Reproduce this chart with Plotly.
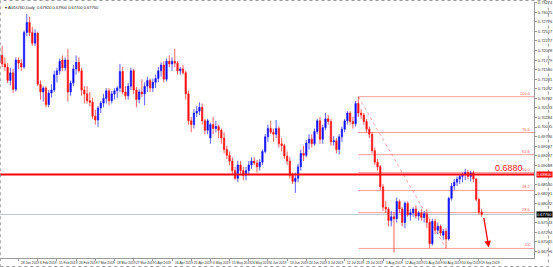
import plotly.graph_objects as go
import pandas as pd

# ---------------- data ----------------
dates = pd.bdate_range("2019-01-17", "2019-09-20")

open_ = [0.7172,0.7190,0.7168,0.7160,0.7125,0.7145,0.7102,0.7178,0.7170,0.7160,
         0.7250,0.7276,0.7250,0.7222,0.7248,0.7115,0.7095,0.7105,0.7062,0.7092,
         0.7100,0.7140,0.7150,0.7178,0.7158,0.7178,0.7095,0.7118,0.7155,0.7172,
         0.7150,0.7100,0.7090,0.7072,0.7068,0.7032,0.7022,0.7053,0.7066,0.7078,
         0.7098,0.7072,0.7090,0.7098,0.7105,0.7148,0.7095,0.7085,0.7110,0.7150,
         0.7100,0.7075,0.7095,0.7090,0.7110,0.7125,0.7105,0.7120,0.7130,0.7150,
         0.7165,0.7128,0.7175,0.7168,0.7175,0.7170,0.7150,0.7155,0.7145,0.7090,
         0.7020,0.7010,0.7040,0.7045,0.7055,0.7020,0.6995,0.6975,0.7010,0.7000,
         0.7005,0.6995,0.6975,0.6945,0.6930,0.6915,0.6890,0.6870,0.6905,0.6890,
         0.6878,0.6890,0.6905,0.6915,0.6910,0.6900,0.6912,0.6940,0.6978,0.7000,
         0.6990,0.6985,0.7000,0.6960,0.6955,0.6928,0.6915,0.6878,0.6862,0.6870,
         0.6900,0.6935,0.6930,0.6962,0.6972,0.6960,0.6992,0.7020,0.6972,0.7002,
         0.7025,0.7018,0.6965,0.6968,0.6945,0.6978,0.6998,0.7020,0.7040,0.7018,
         0.7012,0.7065,0.7040,0.7035,0.7018,0.6998,0.6985,0.6942,0.6912,0.6900,
         0.6848,0.6795,0.6790,0.6760,0.6770,0.6765,0.6810,0.6790,0.6755,0.6805,
         0.6775,0.6780,0.6790,0.6772,0.6780,0.6768,0.6778,0.6755,0.6700,0.6758,
         0.6735,0.6745,0.6722,0.6732,0.6712,0.6818,0.6850,0.6860,0.6868,0.6875,
         0.6880,0.6885,0.6875,0.6884,0.6868,0.6815,0.6782]
high = [0.7200,0.7215,0.7185,0.7170,0.7158,0.7155,0.7185,0.7185,0.7180,0.7255,
        0.7298,0.7290,0.7265,0.7258,0.7252,0.7125,0.7110,0.7110,0.7100,0.7115,
        0.7150,0.7158,0.7182,0.7190,0.7185,0.7207,0.7125,0.7165,0.7190,0.7185,
        0.7158,0.7110,0.7110,0.7095,0.7080,0.7048,0.7058,0.7072,0.7090,0.7105,
        0.7105,0.7098,0.7105,0.7110,0.7168,0.7160,0.7110,0.7118,0.7158,0.7155,
        0.7108,0.7102,0.7128,0.7120,0.7135,0.7130,0.7130,0.7140,0.7160,0.7172,
        0.7175,0.7182,0.7190,0.7185,0.7207,0.7175,0.7160,0.7165,0.7150,0.7098,
        0.7030,0.7050,0.7058,0.7068,0.7065,0.7025,0.7025,0.7015,0.7030,0.7020,
        0.7010,0.7000,0.6990,0.6955,0.6940,0.6925,0.6900,0.6915,0.6915,0.6900,
        0.6900,0.6915,0.6925,0.6925,0.6918,0.6920,0.6945,0.6985,0.7010,0.7020,
        0.7000,0.7022,0.7005,0.6975,0.6960,0.6940,0.6925,0.6885,0.6885,0.6908,
        0.6945,0.6955,0.6970,0.6985,0.6985,0.7000,0.7025,0.7030,0.7010,0.7040,
        0.7035,0.7025,0.6980,0.6975,0.6985,0.7005,0.7025,0.7045,0.7045,0.7030,
        0.7072,0.70826,0.7050,0.7040,0.7025,0.7005,0.6990,0.6950,0.6920,0.6905,
        0.6855,0.6810,0.6795,0.6785,0.6782,0.6820,0.6815,0.6795,0.6810,0.6810,
        0.6790,0.6795,0.6800,0.6785,0.6790,0.6785,0.6790,0.6765,0.6765,0.6765,
        0.6755,0.6750,0.6738,0.6740,0.6822,0.6858,0.6868,0.6875,0.6880,0.6885,
        0.6895,0.6892,0.6890,0.6890,0.6872,0.6820,0.6790]
low = [0.7160,0.7160,0.7150,0.7118,0.7112,0.7092,0.7096,0.7155,0.7150,0.7155,
       0.7240,0.7240,0.7215,0.7215,0.7110,0.7075,0.7070,0.7055,0.7055,0.7080,
       0.7095,0.7120,0.7140,0.7150,0.7150,0.7070,0.7085,0.7110,0.7140,0.7145,
       0.7085,0.7065,0.7065,0.7058,0.7025,0.7010,0.7003,0.7040,0.7055,0.7065,
       0.7060,0.7065,0.7075,0.7080,0.7095,0.7088,0.7075,0.7075,0.7100,0.7090,
       0.7055,0.7065,0.7082,0.7060,0.7095,0.7095,0.7095,0.7105,0.7120,0.7135,
       0.7120,0.7122,0.7160,0.7150,0.7160,0.7140,0.7140,0.7140,0.7075,0.7010,
       0.6990,0.7000,0.7030,0.7035,0.7010,0.6985,0.6985,0.6960,0.6985,0.6990,
       0.6975,0.6960,0.6935,0.6920,0.6905,0.6880,0.6865,0.6860,0.6880,0.6865,
       0.6865,0.6880,0.6895,0.6905,0.6885,0.6890,0.6905,0.6935,0.6965,0.6985,
       0.6965,0.6975,0.6950,0.6940,0.6920,0.6905,0.6870,0.6855,0.6832,0.6860,
       0.6890,0.6915,0.6925,0.6945,0.6950,0.6955,0.6985,0.6960,0.6960,0.6995,
       0.7010,0.6955,0.6955,0.6935,0.6932,0.6965,0.6990,0.7010,0.7010,0.7000,
       0.7005,0.7030,0.7025,0.7010,0.6990,0.6975,0.6935,0.6905,0.6890,0.6840,
       0.6785,0.6780,0.6745,0.6745,0.6677,0.6755,0.6780,0.6745,0.6740,0.6770,
       0.6760,0.6770,0.6765,0.6760,0.6760,0.6755,0.6740,0.6688,0.6695,0.6725,
       0.6725,0.6720,0.6710,0.66875,0.6708,0.6812,0.6840,0.6850,0.6855,0.6860,
       0.6865,0.6868,0.6862,0.6860,0.6810,0.6775,0.6770]
close = [0.7190,0.7168,0.7160,0.7125,0.7145,0.7102,0.7178,0.7170,0.7160,0.7250,
         0.7276,0.7250,0.7222,0.7248,0.7115,0.7095,0.7105,0.7062,0.7092,0.7100,
         0.7140,0.7150,0.7175,0.7158,0.7178,0.7095,0.7118,0.7155,0.7172,0.7150,
         0.7100,0.7090,0.7072,0.7068,0.7032,0.7022,0.7053,0.7066,0.7078,0.7098,
         0.7072,0.7090,0.7098,0.7105,0.7148,0.7095,0.7085,0.7110,0.7150,0.7100,
         0.7075,0.7095,0.7090,0.7110,0.7125,0.7105,0.7120,0.7130,0.7150,0.7165,
         0.7128,0.7175,0.7168,0.7175,0.7170,0.7150,0.7155,0.7145,0.7090,0.7020,
         0.7010,0.7040,0.7045,0.7055,0.7020,0.6995,0.7020,0.7010,0.7000,0.7005,
         0.6995,0.6975,0.6945,0.6930,0.6915,0.6890,0.6870,0.6905,0.6890,0.6878,
         0.6890,0.6905,0.6915,0.6910,0.6900,0.6912,0.6940,0.6978,0.7000,0.6990,
         0.6985,0.7000,0.6960,0.6955,0.6928,0.6915,0.6878,0.6862,0.6870,0.6900,
         0.6935,0.6930,0.6962,0.6972,0.6960,0.6992,0.7020,0.6972,0.7002,0.7025,
         0.7018,0.6965,0.6968,0.6945,0.6978,0.6998,0.7020,0.7040,0.7018,0.7012,
         0.7065,0.7040,0.7035,0.7018,0.6998,0.6985,0.6942,0.6912,0.6900,0.6848,
         0.6795,0.6790,0.6760,0.6770,0.6765,0.6810,0.6790,0.6755,0.6805,0.6775,
         0.6780,0.6790,0.6772,0.6780,0.6768,0.6778,0.6755,0.6700,0.6758,0.6735,
         0.6745,0.6728,0.6732,0.6712,0.6818,0.6850,0.6860,0.6868,0.6875,0.6880,
         0.6885,0.6875,0.6884,0.6868,0.6815,0.6782,0.6776]

assert len(open_) == len(high) == len(low) == len(close) == len(dates)

price_ticks = [0.73274, 0.73025, 0.72776, 0.72527, 0.72277, 0.72028, 0.71779,
               0.71530, 0.71281, 0.71032, 0.70782, 0.70533, 0.70284, 0.70035,
               0.69786, 0.69537, 0.69287, 0.69038, 0.68789, 0.68540, 0.68291,
               0.68042, 0.67792, 0.67543, 0.67294, 0.67045, 0.66796]

label_every = 7
resistance = 0.6880
current_price = close[-1]
fib_high, fib_high_date = 0.70826, "2019-07-19"
fib_low, fib_low_date = 0.66875, "2019-09-03"
fib_levels = [0.0, 23.6, 38.2, 50.0, 61.8, 76.4, 100.0]
arrow_from = ("2019-09-23", 0.6771)   # projected next bars
arrow_to = ("2019-09-25", 0.6690)

# ---------------- helpers ----------------
xi = list(range(len(dates)))
date_pos = {d.strftime("%Y-%m-%d"): i for i, d in enumerate(dates)}
def pos(d):
    if d in date_pos:
        return date_pos[d]
    extra = pd.bdate_range(dates[-1], d)
    return len(dates) - 1 + len(extra) - 1

X_RANGE = [0.22, 195.1]
Y_RANGE = [0.66626, 0.73292]
FONT = "Liberation Sans, Arial, sans-serif"

# price ticks hidden behind the boxed labels (as on the terminal)
shown_ticks = [t for t in price_ticks
               if abs(t - resistance) > 0.0012 and abs(t - current_price) > 0.0012]

fig = go.Figure()
fig.add_trace(go.Candlestick(
    x=xi, open=open_, high=high, low=low, close=close,
    increasing=dict(line=dict(color="#1a1aff", width=0.7), fillcolor="#0000ff"),
    decreasing=dict(line=dict(color="#ff1a1a", width=0.7), fillcolor="#ff0000"),
    whiskerwidth=0, showlegend=False, hoverinfo="skip",
))

shapes = []
# bid line
shapes.append(dict(type="line", xref="paper", x0=0, x1=1, yref="y",
                   y0=current_price, y1=current_price,
                   line=dict(color="rgba(150,170,170,0.65)", width=1), layer="below"))
# fibonacci
fx0 = pos(fib_high_date)
for lv in fib_levels:
    p = fib_low + lv / 100.0 * (fib_high - fib_low)
    shapes.append(dict(type="line", xref="x", x0=fx0, x1=X_RANGE[1], yref="y", y0=p, y1=p,
                       line=dict(color="rgba(255,60,60,0.5)", width=1), layer="below"))
shapes.append(dict(type="line", xref="x", yref="y", x0=fx0, y0=fib_high,
                   x1=pos(fib_low_date), y1=fib_low,
                   line=dict(color="rgba(255,60,60,0.45)", width=1, dash="dot"), layer="below"))
# resistance
shapes.append(dict(type="line", xref="paper", x0=0, x1=1, yref="y", y0=resistance, y1=resistance,
                   line=dict(color="#ff0000", width=2)))
# outer frame
shapes.append(dict(type="rect", xref="paper", yref="paper", x0=0.0005, x1=552.5/538,
                   y0=-8.5/256, y1=1 + 1.5/256,
                   line=dict(color="#9a9a9a", width=1, dash="dot")))

ann = []
# date labels
tickvals = xi[::label_every]
for i in tickvals:
    d = dates[i]
    ann.append(dict(x=i, xref="x", y=0, yref="paper", yanchor="top", xanchor="left",
                    text=f"{d.day} {d.strftime('%b %Y')}", showarrow=False, xshift=0.5, yshift=-0.5,
                    font=dict(size=3.3, color="#333333", family=FONT)))
# fib labels
for lv in fib_levels:
    p = fib_low + lv / 100.0 * (fib_high - fib_low)
    ann.append(dict(x=X_RANGE[1], xref="x", y=p, yref="y", xanchor="right", yanchor="bottom",
                    text=f"{lv:.1f}", showarrow=False, xshift=-1, yshift=-1,
                    font=dict(size=4, color="rgba(255,40,40,0.8)", family=FONT)))
# resistance text
ann.append(dict(x=191.7, xref="x", y=resistance, yref="y", xanchor="right", yanchor="bottom",
                text=f"{resistance:.4f}", showarrow=False, yshift=0,
                font=dict(size=9, color="#ff2020", family=FONT)))
# axis price boxes
ann.append(dict(x=1, xref="paper", y=resistance, yref="y", xanchor="left", yanchor="middle",
                text=f"{resistance:.5f}", showarrow=False, bgcolor="#ff0000", borderpad=0,
                xshift=2, font=dict(size=4, color="white", family=FONT)))
ann.append(dict(x=1, xref="paper", y=current_price, yref="y", xanchor="left", yanchor="middle",
                text=f"{current_price:.5f}", showarrow=False, bgcolor="#000000", borderpad=0,
                xshift=2, font=dict(size=4, color="white", family=FONT)))
# projection arrow
ann.append(dict(x=pos(arrow_to[0]) - 0.4, y=arrow_to[1], xref="x", yref="y",
                ax=pos(arrow_from[0]) - 0.3, ay=arrow_from[1], axref="x", ayref="y",
                showarrow=True, arrowhead=2, arrowsize=1, arrowwidth=1.3, arrowcolor="#ff0000",
                text=""))
# title
ann.append(dict(x=0, xref="paper", y=1, yref="paper", xanchor="left", yanchor="top",
                text=f"▾ AUDUSD,Daily  {open_[-1]:.5f} {high[-1]:.5f} {low[-1]:.5f} {close[-1]:.5f}",
                showarrow=False, xshift=3, yshift=-0.5,
                font=dict(size=4, color="#222222", family=FONT)))

fig.update_layout(
    width=553, height=267,
    margin=dict(l=0, r=15, t=2, b=9),
    paper_bgcolor="white", plot_bgcolor="white",
    shapes=shapes, annotations=ann,
    font=dict(family=FONT, size=4, color="#333333"),
    xaxis=dict(range=X_RANGE, rangeslider=dict(visible=False), showgrid=False, zeroline=False,
               showline=True, linecolor="#9a9a9a", linewidth=1, ticks="outside", ticklen=2,
               tickcolor="#9a9a9a", tickvals=tickvals, showticklabels=False, fixedrange=True),
    yaxis=dict(range=Y_RANGE, side="right", showgrid=False, zeroline=False, showline=True,
               linecolor="#9a9a9a", linewidth=1, ticks="outside", ticklen=2, tickcolor="#9a9a9a",
               tickvals=shown_ticks, tickformat=".5f",
               tickfont=dict(size=4, color="#333333", family=FONT), fixedrange=True),
)

fig.write_html("out.html")
